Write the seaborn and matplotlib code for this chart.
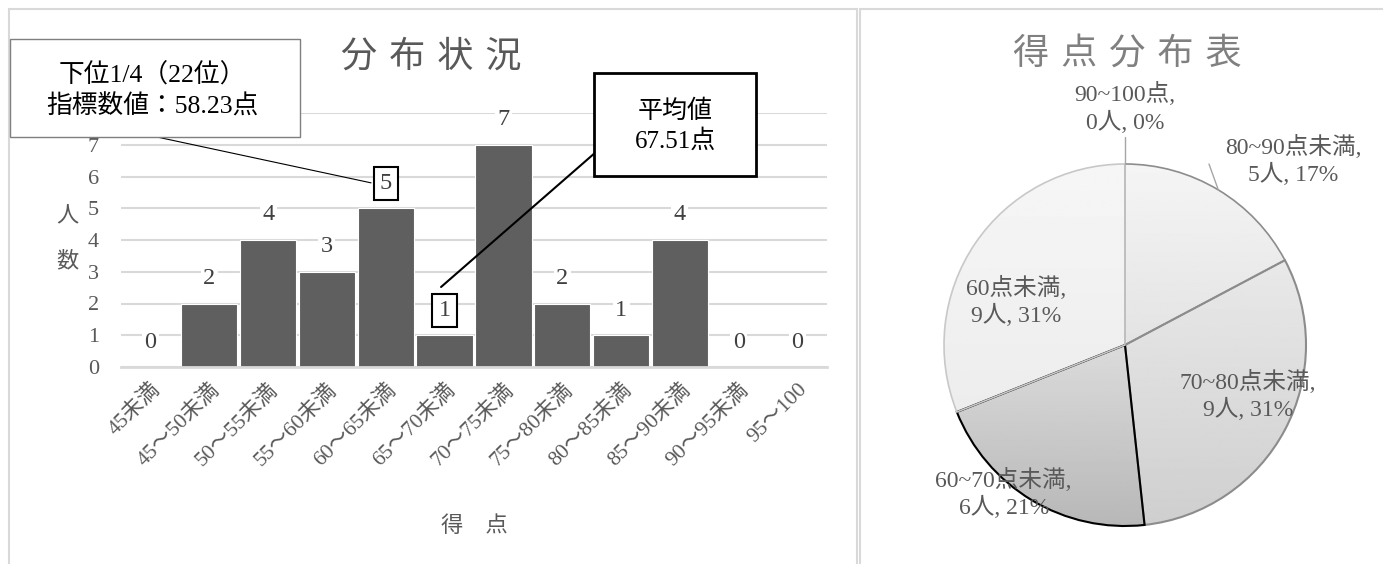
import numpy as np
import pandas as pd
import matplotlib
matplotlib.use("Agg")
import matplotlib.pyplot as plt
import seaborn as sns
from matplotlib.patches import Rectangle

# ---- data ----
score_bins = ["45未満", "45～50未満", "50～55未満", "55～60未満", "60～65未満", "65～70未満",
              "70～75未満", "75～80未満", "80～85未満", "85～90未満", "90～95未満", "95～100"]
counts = [0, 2, 4, 3, 5, 1, 7, 2, 1, 4, 0, 0]
boxed_bins = ["60～65未満", "65～70未満"]

pie_labels = ["90~100点", "80~90点未満", "70~80点未満", "60~70点未満", "60点未満"]
pie_counts = [0, 5, 9, 6, 9]

quartile_text = "下位1/4（22位）\n指標数値：58.23点"
mean_text = "平均値\n67.51点"

# ---- layout helpers (pixels -> figure fraction) ----
W, H = 1383, 564
def fx(px):
    return px / W
def fy(py):
    return 1 - py / H

sns.set_theme(style="white")
plt.rcParams['font.family'] = ['Liberation Serif', 'Noto Sans CJK JP']
GRAY = '#595959'
SP = "\u2004"  # three-per-em space between title characters

fig = plt.figure(figsize=(W / 100, H / 100), dpi=100)

# panel borders
for x0, x1 in [(9, 857), (860, 1395)]:
    fig.add_artist(Rectangle((fx(x0), fy(575)), fx(x1) - fx(x0), fy(9) - fy(575),
                             transform=fig.transFigure, fill=False, ec='#d9d9d9', lw=1.5))

# ---- bar chart ----
ax = fig.add_axes([fx(121), fy(367), fx(827) - fx(121), (367 - 113) / H])
df = pd.DataFrame({'bin': score_bins, 'count': counts})
sns.barplot(data=df, x='bin', y='count', color='#5f5f5f', saturation=1, width=0.96,
            edgecolor='white', linewidth=0.8, ax=ax, zorder=2)
ax.set_xlim(-0.5, len(score_bins) - 0.5)
ax.set_ylim(0, 8)
ax.set_yticks(range(9))
ax.set_yticklabels([str(i) for i in range(8)] + [''])
ax.yaxis.grid(True, color='#d9d9d9', lw=1.5)
ax.set_axisbelow(True)
for s in ['top', 'right', 'left']:
    ax.spines[s].set_visible(False)
ax.spines['bottom'].set_color('#d9d9d9')
ax.spines['bottom'].set_linewidth(2)
ax.tick_params(axis='both', length=0, colors=GRAY)
ax.tick_params(axis='y', labelsize=16, pad=16)
ax.tick_params(axis='x', labelsize=15.5, pad=9)
for lab in ax.get_xticklabels():
    lab.set_rotation(45)
    lab.set_ha('right')
    lab.set_rotation_mode('anchor')

ax.set_ylabel("人\n数", rotation=0, fontsize=16, color=GRAY, linespacing=2.6,
              va='center', ha='center')
ax.yaxis.set_label_coords((67 - 121) / 706, 0.5)
ax.set_xlabel("得　点", fontsize=16, color=GRAY, va='center')
ax.xaxis.set_label_coords(0.5, (367 - 527) / 254)

for i, (b, v) in enumerate(zip(score_bins, counts)):
    if b in boxed_bins:
        bb = dict(boxstyle='square,pad=0.25', fc='white', ec='black', lw=1.5)
    else:
        bb = dict(boxstyle='square,pad=0.1', fc='white', ec='none')
    ax.annotate(str(v), (i, v), xytext=(0, 18), textcoords='offset points',
                ha='center', va='center', fontsize=17.5, color='#404040', bbox=bb, zorder=4)

# callout: quartile
fig.add_artist(Rectangle((fx(10), fy(137)), fx(300) - fx(10), fy(39) - fy(137),
                         transform=fig.transFigure, fc='white', ec='#7f7f7f', lw=1, zorder=10))
fig.text(fx(152), fy(91), quartile_text, ha='center', va='center', fontsize=18.5,
         color='black', linespacing=1.35, zorder=11)
ax.annotate('', xy=(3.75, 5.8), xycoords='data', xytext=(fx(157), fy(137)),
            textcoords='figure fraction',
            arrowprops=dict(arrowstyle='-', lw=0.8, color='black', shrinkA=0, shrinkB=0))

# callout: mean
fig.add_artist(Rectangle((fx(594), fy(176)), fx(756) - fx(594), fy(73) - fy(176),
                         transform=fig.transFigure, fc='white', ec='black', lw=2, zorder=10))
fig.text(fx(675), fy(126), mean_text, ha='center', va='center', fontsize=18,
         color='black', linespacing=1.35, zorder=11)
ax.annotate('', xy=(4.94, 2.52), xycoords='data', xytext=(fx(596), fy(152)),
            textcoords='figure fraction',
            arrowprops=dict(arrowstyle='-', lw=1.5, color='black', shrinkA=0, shrinkB=0))

fig.text(fx(431), fy(58), SP.join("分布状況"), ha='center', va='center', fontsize=26, color=GRAY)

# ---- pie chart ----
R = 181
K = 1.4
cx, cy = 1125, 345
ax2 = fig.add_axes([fx(cx - R * K), fy(cy + R * K), 2 * R * K / W, 2 * R * K / H])
wedges, _ = ax2.pie(pie_counts, startangle=90, counterclock=False, radius=1)

grad = {  # gray level at y=+1 and y=-1
    "90~100点": (0.95, 0.90),
    "80~90点未満": (0.96, 0.82),
    "70~80点未満": (0.95, 0.81),
    "60~70点未満": (1.0, 0.72),
    "60点未満": (0.965, 0.91),
}
edges = {
    "90~100点": ('#a6a6a6', 1.0),
    "80~90点未満": ('#8c8c8c', 1.2),
    "70~80点未満": ('#8c8c8c', 1.5),
    "60~70点未満": ('black', 1.5),
    "60点未満": ('#c8c8c8', 1.2),
}
for w, name in zip(wedges, pie_labels):
    top, bot = grad[name]
    g = np.clip(np.linspace(top, bot, 256), 0, 1).reshape(-1, 1)
    im = ax2.imshow(g, cmap='gray', vmin=0, vmax=1, extent=(-1, 1, -1, 1),
                    aspect='auto', zorder=1, interpolation='bilinear')
    im.set_clip_path(w)
    w.set_facecolor('none')
    ec, lw = edges[name]
    w.set_edgecolor(ec)
    w.set_linewidth(lw)
    w.set_zorder(2)

ax2.set_xlim(-K, K)
ax2.set_ylim(-K, K)
ax2.axis('off')

total = sum(pie_counts)
label_pos = [(0.0, 1.31), (0.93, 1.02), (0.68, -0.28), (-0.67, -0.82), (-0.60, 0.24)]
for name, n, (lx, ly) in zip(pie_labels, pie_counts, label_pos):
    pct = round(100 * n / total)
    ax2.text(lx, ly, f"{name},\n{n}人, {pct}%", ha='center', va='center', fontsize=17,
             color=GRAY, linespacing=1.25, zorder=5)

# leader lines for outside labels
ax2.plot([0, 0], [1.0, 1.15], color='#a6a6a6', lw=1, zorder=3)
ang = np.deg2rad(90 - 360 * (pie_counts[0] + pie_counts[1] / 2) / total)
ax2.plot([np.cos(ang), 0.464], [np.sin(ang), 1.0], color='#a6a6a6', lw=1, zorder=3)

fig.text(fx(1127), fy(55), SP.join("得点分布表"), ha='center', va='center', fontsize=26,
         color='#808080')

fig.savefig("out.png", dpi=100)
